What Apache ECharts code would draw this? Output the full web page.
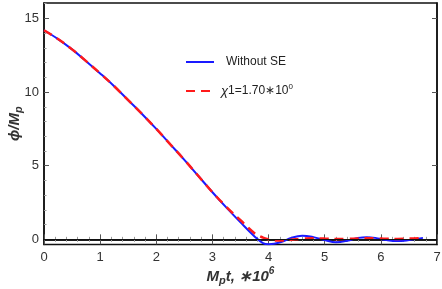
<!DOCTYPE html>
<html>
<head>
<meta charset="utf-8">
<script src="https://cdn.jsdelivr.net/npm/echarts@6/dist/echarts.min.js"></script>
<style>html,body{margin:0;padding:0;background:#fff}#c{width:442px;height:289px}</style>
</head>
<body>
<div id="c"></div>
<script>
// time values (Mp t, x10^6)
const tValues = [0, 0.25, 0.5, 0.75, 1.0, 1.25, 1.5, 1.75, 2.0, 2.25, 2.5, 2.75, 3.0, 3.25, 3.5, 3.75, 3.9, 4.0, 4.1, 4.25, 4.4, 4.6, 4.8, 5.0, 5.2, 5.4, 5.6, 5.75, 5.9, 6.1, 6.3, 6.5, 6.75];
// phi/Mp, without SE
const withoutSE = [14.2, 13.6, 12.9, 12.1, 11.27, 10.4, 9.45, 8.5, 7.5, 6.45, 5.4, 4.3, 3.2, 2.15, 1.15, 0.2, -0.25, -0.33, -0.3, -0.15, 0.1, 0.25, 0.15, -0.05, -0.2, -0.1, 0.1, 0.15, 0.1, -0.05, -0.12, -0.05, 0.1];
// phi/Mp, chi1 = 1.70*10^0
const chi1 = [14.2, 13.6, 12.9, 12.1, 11.27, 10.4, 9.45, 8.5, 7.5, 6.45, 5.4, 4.3, 3.2, 2.2, 1.3, 0.42, 0.12, 0.0, -0.07, -0.08, -0.03, 0.05, 0.07, 0.05, 0.02, 0.03, 0.06, 0.08, 0.07, 0.04, 0.03, 0.05, 0.08];
const xTicks = [0, 1, 2, 3, 4, 5, 6, 7];
const yTicks = [0, 5, 10, 15];
const seriesNames = ['Without SE', 'chi'];

const pair = (ys) => tValues.map((t, i) => [t, ys[i]]);
const font = 'Liberation Sans, Arial, sans-serif';
const chart = echarts.init(document.getElementById('c'), null, {renderer: 'canvas'});
const xTickCommon = {
  axisLine: {show: true, lineStyle: {color: '#111', width: 1.5}},
  axisTick: {show: true, inside: true, length: 5, lineStyle: {color: '#555', width: 1}},
  minorTick: {show: true, splitNumber: 5, length: 2.5, lineStyle: {color: '#999', width: 1}},
  splitLine: {show: false}
};
const yMinor = [1,2,3,4,6,7,8,9,11,12,13,14,16];
chart.setOption({
  animation: false,
  grid: {left: 44, right: 5, top: 3, bottom: 44.5, show: true, borderColor: '#111', borderWidth: 1.5,
    outerBoundsMode: 'none', containLabel: false},
  legend: {
    left: 180, top: 51, orient: 'vertical', itemWidth: 28, itemHeight: 10, itemGap: 15,
    data: seriesNames,
    itemStyle: {opacity: 0},
    textStyle: {fontFamily: font, fontSize: 12, color: '#222',
      rich: {
        it: {fontFamily: font, fontSize: 13, fontStyle: 'italic', color: '#222', padding: [0, 0, 0, 2]},
        n: {fontFamily: font, fontSize: 12, color: '#222'},
        w: {fontFamily: font, fontSize: 12, color: '#222', padding: [0, 0, 0, 7]},
        sup: {fontFamily: font, fontSize: 8, color: '#222', verticalAlign: 'bottom', padding: [0, 0, 8, 0]}
      }
    },
    formatter: function (name) {
      if (name === 'chi') return '{it|\u03c7}{n|1=1.70\u221710}{sup|0}';
      return '{w|' + name + '}';
    }
  },
  xAxis: [{
    type: 'value', min: 0, max: 7, interval: 1, position: 'bottom',
    name: '{b|M}{s|p}{b|t, \u221710}{p|6}', nameLocation: 'middle', nameGap: 22, nameMoveOverlap: false,
    nameTextStyle: {
      rich: {
        b: {fontFamily: font, fontSize: 15, fontWeight: 'bold', fontStyle: 'italic', color: '#333'},
        s: {fontFamily: font, fontSize: 11, fontWeight: 'bold', fontStyle: 'italic', color: '#333', padding: [8, 0, 0, 0]},
        p: {fontFamily: font, fontSize: 10, fontWeight: 'bold', fontStyle: 'italic', color: '#333', padding: [0, 0, 10, 0]}
      }
    },
    axisLabel: {fontFamily: font, fontSize: 13, color: '#333', margin: 6},
    ...xTickCommon
  }, {
    type: 'value', min: 0, max: 7, interval: 1, position: 'top',
    axisLabel: {show: false}, ...xTickCommon
  }],
  yAxis: [{
    type: 'value', min: -0.35, max: 16.05, position: 'left',
    name: '{b|\u03d5/M}{s|p}', nameLocation: 'middle', nameGap: 20, nameRotate: 90, nameMoveOverlap: false,
    nameTextStyle: {
      rich: {
        b: {fontFamily: font, fontSize: 15, fontWeight: 'bold', fontStyle: 'italic', color: '#333'},
        s: {fontFamily: font, fontSize: 11, fontWeight: 'bold', fontStyle: 'italic', color: '#333', padding: [8, 0, 0, 0]}
      }
    },
    axisLabel: {fontFamily: font, fontSize: 13, color: '#333', margin: 5, customValues: yTicks},
    axisTick: {show: true, inside: true, length: 5, customValues: yTicks, lineStyle: {color: '#555'}},
    axisLine: {show: true, lineStyle: {color: '#111', width: 1.5}},
    splitLine: {show: false},
    minorTick: {show: false}
  }, {
    type: 'value', min: -0.35, max: 16.05, position: 'left',
    axisLabel: {show: false},
    axisTick: {show: true, inside: true, length: 2.5, customValues: yMinor, lineStyle: {color: '#999'}},
    axisLine: {show: false},
    splitLine: {show: false}
  }, {
    type: 'value', min: -0.35, max: 16.05, position: 'right',
    axisLabel: {show: false},
    axisTick: {show: true, inside: true, length: 5, customValues: yTicks, lineStyle: {color: '#555'}},
    axisLine: {show: true, lineStyle: {color: '#111', width: 1.5}},
    splitLine: {show: false}
  }],
  series: [{
    name: 'Without SE', type: 'line', data: pair(withoutSE), smooth: 0.4, symbol: 'none',
    lineStyle: {color: '#1a1aff', width: 2}, itemStyle: {color: '#1a1aff'},
    markLine: {silent: true, symbol: 'none', label: {show: false},
      lineStyle: {color: '#111', width: 1.2, type: 'solid'}, data: [{yAxis: 0}]}
  }, {
    name: 'chi', type: 'line', data: pair(chi1), smooth: 0.4, symbol: 'none',
    lineStyle: {color: '#ff1a1a', width: 2.5, type: [9, 6]}, itemStyle: {color: '#ff1a1a'}
  }]
});
</script>
</body>
</html>
